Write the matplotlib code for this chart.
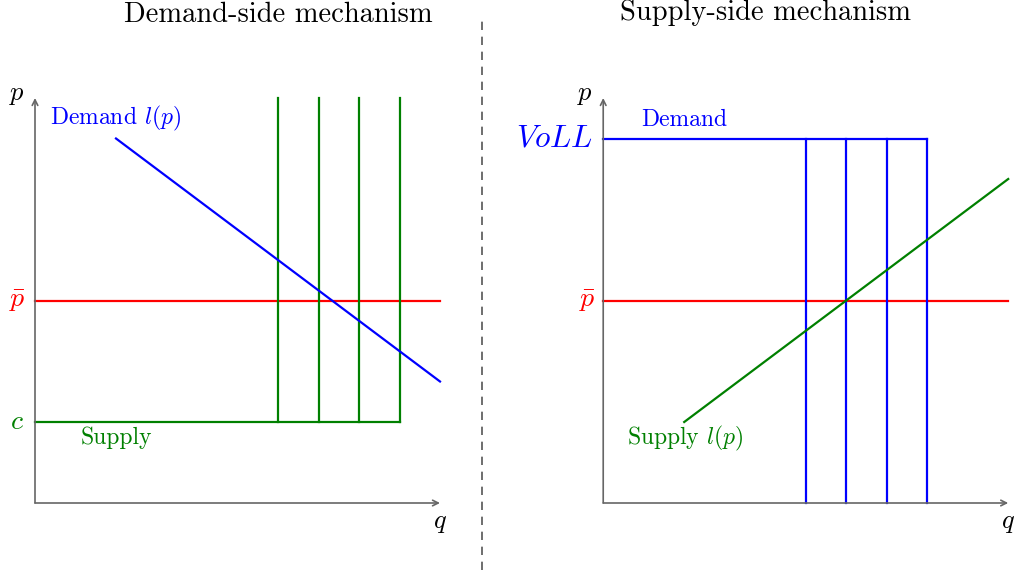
import matplotlib.pyplot as plt

plt.rcParams['mathtext.fontset'] = 'cm'
plt.rcParams['font.family'] = 'cmr10'
plt.rcParams['axes.formatter.use_mathtext'] = True

# diagram values (in axis units)
p_bar = 5
cost = 2
voll = 9
axis_max = 10

# demand-side panel
demand_left_x = [2, 10]
demand_left_y = [9, 3]
supply_steps_x = [6, 7, 8, 9]
supply_flat_end = 9

# supply-side panel
demand_steps_x = [5, 6, 7, 8]
supply_right_x = [2, 10]
supply_right_y = [2, 8]

GREEN = '#008000'
AXIS = '#666666'
RIGHT = 14.03  # x offset of the right panel
u = 40.5       # pixels per unit

fig = plt.figure(figsize=(10.15, 5.74), dpi=100)
ax = fig.add_axes([0, 0, 1, 1])
ax.set_xlim(-35 / u, (1015 - 35) / u)
ax.set_ylim(-(574 - 503) / u, 503 / u)
ax.axis('off')


def draw_axes(x0):
    for end in [(x0 + axis_max, 0), (x0, axis_max)]:
        ax.annotate('', xy=end, xytext=(x0, 0),
                    arrowprops=dict(arrowstyle='->', color=AXIS, lw=1.2,
                                    shrinkA=0, shrinkB=0, mutation_scale=10))
    ax.text(x0 - 0.45, axis_max + 0.07, '$p$', fontsize=19, ha='center', va='center')
    ax.text(x0 + axis_max, -0.5, '$q$', fontsize=19, ha='center', va='center')


lw = 1.6

# ---- left: demand-side mechanism
draw_axes(0)
ax.plot([0, axis_max], [p_bar, p_bar], color='red', lw=lw)
ax.plot([0, supply_flat_end], [cost, cost], color=GREEN, lw=lw)
for x in supply_steps_x:
    ax.plot([x, x], [cost, axis_max], color=GREEN, lw=lw)
ax.plot(demand_left_x, demand_left_y, color='blue', lw=lw)
ax.text(-0.44, p_bar, r'$\bar{p}$', color='red', fontsize=20, ha='center', va='center')
ax.text(-0.44, cost, '$c$', color=GREEN, fontsize=20, ha='center', va='center')
ax.text(2.0, 9.5, 'Demand $l(p)$', color='blue', fontsize=17, ha='center', va='center')
ax.text(2.0, 1.6, 'Supply', color=GREEN, fontsize=17, ha='center', va='center')
ax.text(6.0, 12.05, 'Demand-side mechanism', fontsize=20.5, ha='center', va='center')

# ---- divider
ax.plot([11.04, 11.04], [-1.65, 12.05], color='#555555', lw=1.2, dashes=(5, 4))

# ---- right: supply-side mechanism
draw_axes(RIGHT)
ax.plot([RIGHT, RIGHT + axis_max], [p_bar, p_bar], color='red', lw=lw)
ax.plot([RIGHT, RIGHT + max(demand_steps_x)], [voll, voll], color='blue', lw=lw)
for x in demand_steps_x:
    ax.plot([RIGHT + x, RIGHT + x], [0, voll], color='blue', lw=lw)
ax.plot([RIGHT + x for x in supply_right_x], supply_right_y, color=GREEN, lw=lw)
ax.text(RIGHT - 0.4, p_bar, r'$\bar{p}$', color='red', fontsize=20, ha='center', va='center')
ax.text(RIGHT - 0.25, voll, '$VoLL$', color='blue', fontsize=22.5, ha='right', va='center')
ax.text(RIGHT + 2.0, 9.45, 'Demand', color='blue', fontsize=17, ha='center', va='center')
ax.text(RIGHT + 2.02, 1.6, 'Supply $l(p)$', color=GREEN, fontsize=17, ha='center', va='center')
ax.text(RIGHT + 4.0, 12.1, 'Supply-side mechanism', fontsize=20.5, ha='center', va='center')

fig.savefig('out.png', dpi=100)
